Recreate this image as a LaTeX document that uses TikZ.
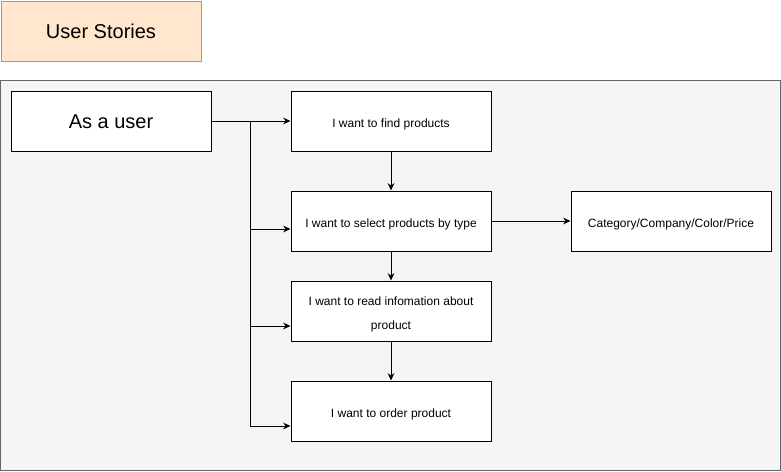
\documentclass[tikz,border=0pt]{standalone}
\usepackage{fontspec}
\setmainfont{Liberation Sans}
\usetikzlibrary{arrows.meta}
\definecolor{titlefill}{HTML}{FFE6CC}
\definecolor{titleline}{HTML}{D79B00}
\definecolor{panelfill}{HTML}{F5F5F5}
\definecolor{panelline}{HTML}{666666}

\begin{document}
\begin{tikzpicture}[x=0.75pt, y=-0.75pt,
    story/.style={draw, fill=white, line width=0.75pt, minimum width=150pt,
        minimum height=45pt, anchor=north west, inner sep=0pt, align=center,
        text height=11pt, font=\fontsize{9}{18}\selectfont},
    big/.style={text height=10.7pt, font=\fontsize{15}{18}\selectfont},
    link/.style={line width=0.75pt, -{Stealth[length=5.5pt, width=5pt]}}]
\useasboundingbox (0,0) rectangle (781,471);

\node[story, big, fill=titlefill, draw=titleline] (title) at (0.5,0.5) {User Stories};
\draw[fill=panelfill, draw=panelline, line width=0.75pt] (0.5,80.5) rectangle (780.5,470.5);

\node[story, big] (user) at (10.5,90.5) {As a user};
\node[story] (find) at (290.5,90.5) {I want to find products};
\node[story] (select) at (290.5,190.5) {I want to select products by type};
\node[story, text height=29pt] (read) at (290.5,280.5) {I want to read infomation about\\product};
\node[story] (order) at (290.5,380.5) {I want to order product};
\node[story] (filter) at (570.5,190.5) {Category/Company/Color/Price};

\coordinate (split) at (250.5,120.5);
\draw[link] (user.east) -- (find.west);
\draw[link] (split) |- ([yshift=-6pt]select.west);
\draw[link] (split) |- ([yshift=-11.25pt]read.west);
\draw[link] (split) |- ([yshift=-11.25pt]order.west);

\draw[link] (find.south) -- (select.north);
\draw[link] (select.south) -- (read.north);
\draw[link] (read.south) -- (order.north);
\draw[link] (select.east) -- (filter.west);
\end{tikzpicture}
\end{document}
